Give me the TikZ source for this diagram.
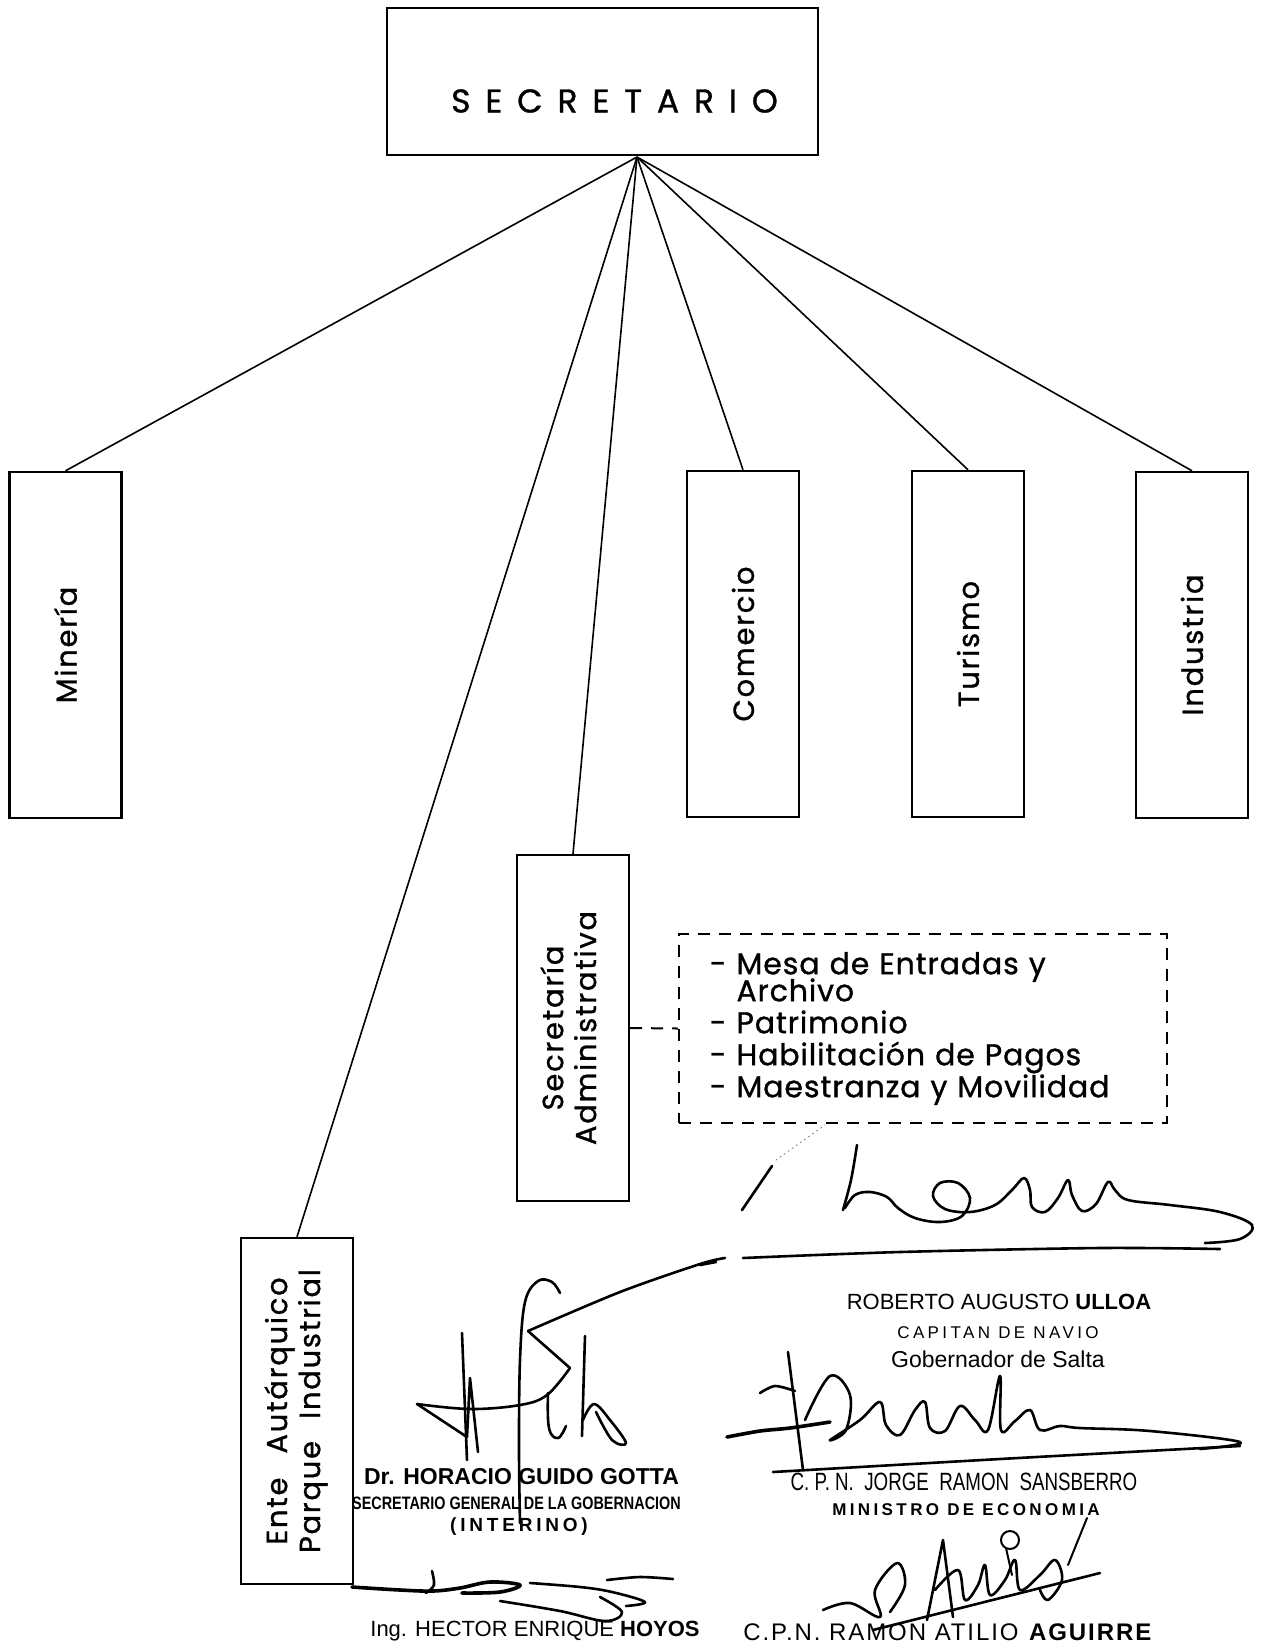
\documentclass[tikz,border=0pt]{standalone}
\usepackage{fontspec}
\setmainfont{Liberation Sans}
\newfontfamily\gothic[LetterSpace=6, FakeBold=1]{Poppins}
\newfontfamily\gothicwide[LetterSpace=45, FakeBold=1]{Poppins}
\newfontfamily\gothiclist[LetterSpace=3, FakeBold=1]{Poppins}
\newfontfamily\stampwide[LetterSpace=20]{Liberation Sans}
\usepackage{graphicx}
\usetikzlibrary{positioning}

\begin{document}
\begin{tikzpicture}[x=0.5pt, y=-0.5pt,
    unitbox/.style={draw, line width=1.2pt, minimum width=56pt, minimum height=173pt,
        inner sep=0pt, font=\gothic\fontsize{14.5}{16.5}\selectfont},
    link/.style={line width=0.8pt},
    dashline/.style={line width=1pt, dash pattern=on 6pt off 4.5pt},
    sig/.style={line width=1.3pt, line cap=round, line join=round},
    stamp/.style={anchor=base, inner sep=0pt}]
    \useasboundingbox (0,0) rectangle (1262,1646);

    % Secretario
    \node[draw, line width=1.2pt, minimum width=215.5pt, minimum height=73.5pt,
        label={[font=\gothicwide\fontsize{16.5}{18}\selectfont, xshift=6pt, yshift=-9.75pt]center:SECRETARIO}]
        (sec) at (602.5,81.5) {};
    \coordinate (hub) at (637,157);

    % Dependencias
    \node[unitbox] (mineria) at (65.5,645) {\rotatebox{90}{Minería}};
    \node[unitbox] (comercio) at (743,644) {\rotatebox{90}{Comercio}};
    \node[unitbox] (turismo) at (968,644) {\rotatebox{90}{Turismo}};
    \node[unitbox] (industria) at (1192,645) {\rotatebox{90}{Industria}};
    \node[unitbox] (secadm) at (573,1028) {\rotatebox{90}{\begin{tabular}{@{}c@{}}Secretaría\\Administrativa\end{tabular}}};
    \node[unitbox] (ente) at (297,1411) {\rotatebox{90}{\begin{tabular}{@{}c@{}}Ente\hspace{12pt}Autárquico\\Parque\hspace{11pt}Industrial\end{tabular}}};

    \foreach \n in {mineria, secadm, ente, comercio, turismo, industria}
        \draw[link] (hub) -- (\n.north);

    % Tareas de la Secretaria Administrativa
    \node[dashline, draw, text width=213pt, inner xsep=15.5pt, inner ysep=0pt, minimum height=94.5pt,
        align=left, font=\gothiclist\fontsize{15}{16}\selectfont] (tareas) at (923,1028.5)
        {- Mesa de Entradas y\\[-2.5pt]
         \hphantom{- }Archivo\\
         - Patrimonio\\
         - Habilitación de Pagos\\
         - Maestranza y Movilidad};
    \draw[dashline] (secadm.east) -- (tareas.west);

    % Firmas
    \node[stamp, font=\fontsize{11}{13}\selectfont] (ulloa) at (999,1309) {ROBERTO AUGUSTO \textbf{ULLOA}};
    \node[stamp, font=\stampwide\fontsize{8.5}{10}\selectfont] (capitan) at (998,1338) {CAPITAN DE NAVIO};
    \node[stamp, font=\fontsize{11.5}{13}\selectfont] (gobernador) at (998,1367) {Gobernador de Salta};

    \node[stamp, font=\bfseries\fontsize{11.5}{13}\selectfont] (gotta) at (521.5,1484) {Dr. HORACIO GUIDO GOTTA};
    \node[stamp, font=\bfseries\fontsize{9}{11}\selectfont] (gotta2) at (516.5,1509) {\scalebox{0.8}[1]{SECRETARIO GENERAL DE LA GOBERNACION}};
    \node[stamp, font=\stampwide\bfseries\fontsize{9.5}{11}\selectfont] (gotta3) at (519,1531) {(INTERINO)};

    \node[stamp, font=\fontsize{12.5}{14}\selectfont] (sansberro) at (964,1490) {\scalebox{0.75}[1]{C. P. N. \ JORGE \ RAMON \ SANSBERRO}};
    \node[stamp, font=\stampwide\bfseries\fontsize{8.5}{10}\selectfont] (sansberro2) at (966,1515) {MINISTRO DE ECONOMIA};

    \node[stamp, anchor=base west, font=\fontsize{11}{13}\selectfont] (hoyos) at (370,1636) {Ing. HECTOR ENRIQUE \textbf{HOYOS}};
    \node[stamp, anchor=base west, font=\addfontfeature{LetterSpace=8}\fontsize{12}{14}\selectfont] (aguirre) at (743,1640) {C.P.N. RAMON ATILIO \textbf{AGUIRRE}};

    % trazos de las firmas
    \draw[sig] (742,1210) -- (772,1166);
    \draw[sig, line width=0.5pt, dotted, gray] (776,1160) -- (825,1125);
    \draw[sig] plot[smooth, tension=0.6] coordinates {(843,1210) (851,1180) (857,1145)};
    \draw[sig] plot[smooth, tension=0.6] coordinates {(845,1208) (855,1195) (870,1192) (887,1197)
        (898,1208) (915,1218) (940,1222) (962,1216) (970,1198) (958,1183) (940,1183) (933,1196)
        (945,1209) (970,1212) (995,1205) (1012,1190) (1024,1178) (1030,1190) (1032,1207) (1045,1212)
        (1058,1198) (1068,1180) (1072,1195) (1082,1211) (1096,1204) (1108,1182) (1115,1190)
        (1128,1200) (1170,1205) (1220,1212) (1252,1225) (1240,1239) (1205,1243)};
    \draw[sig] plot[smooth] coordinates {(528,1331) (620,1292) (700,1264) (725,1258)};
    \draw[sig] plot[smooth] coordinates {(743,1258) (900,1252) (1100,1248) (1220,1249)};
    \draw[sig] (700,1265) -- (716,1262);

    \draw[sig] (528,1331) -- (570,1368);
    \draw[sig] plot[smooth, tension=0.6] coordinates {(520,1523) (519,1450) (520,1360) (525,1302)
        (538,1281) (552,1282) (560,1293)};
    \draw[sig] (462,1333) -- (467,1460);
    \draw[sig] (417,1404) -- (467,1437) -- (470,1378) -- (478,1452);
    \draw[sig] plot[smooth, tension=0.6] coordinates {(417,1404) (470,1409) (520,1405) (547,1395) (570,1368)};
    \draw[sig] plot[smooth, tension=0.7] coordinates {(548,1393) (549,1428) (558,1438) (566,1426)};
    \draw[sig] (582,1436) -- (585,1336);
    \draw[sig] plot[smooth, tension=0.6] coordinates {(583,1420) (594,1404) (610,1420) (626,1443) (612,1440) (596,1412)};

    \draw[sig, line width=1.8pt] plot[smooth, tension=0.6] coordinates {(352,1587) (400,1590) (433,1591)
        (460,1588) (490,1582) (520,1585) (500,1592) (462,1593)};
    \draw[sig] plot[smooth] coordinates {(432,1571) (434,1585) (426,1593)};
    \draw[sig] plot[smooth, tension=0.6] coordinates {(530,1583) (580,1587) (612,1592) (645,1602) (626,1606)};
    \draw[sig] plot[smooth] coordinates {(607,1580) (640,1577) (673,1579)};
    \draw[sig] plot[smooth, tension=0.6] coordinates {(500,1601) (560,1611) (605,1621) (622,1612) (600,1597)};

    \draw[sig, line width=1.8pt] plot[smooth] coordinates {(727,1437) (760,1431) (790,1428) (830,1422)};
    \draw[sig] (788,1352) -- (803,1470);
    \draw[sig] plot[smooth] coordinates {(760,1393) (775,1386) (795,1391)};
    \draw[sig] plot[smooth, tension=0.6] coordinates {(805,1420) (830,1376) (850,1395) (846,1430)
        (830,1440) (860,1420) (880,1402) (886,1425) (900,1435) (915,1410) (925,1402) (930,1428)
        (945,1431) (960,1406) (975,1420) (988,1430) (1000,1376) (1001,1430) (1015,1421)
        (1030,1410) (1040,1430) (1060,1426) (1080,1428) (1150,1431) (1240,1442) (1200,1449)};
    \draw[sig] plot[smooth] coordinates {(773,1472) (1000,1459) (1240,1446)};

    \draw[sig] plot[smooth, tension=0.6] coordinates {(823,1610) (850,1603) (880,1617) (875,1590)
        (897,1563) (905,1585) (890,1612)};
    \draw[sig] (927,1620) -- (943,1540) -- (953,1617);
    \draw[sig] plot[smooth, tension=0.6] coordinates {(935,1590) (958,1570) (965,1600) (978,1585)
        (985,1565) (990,1595) (1005,1580) (1015,1560) (1020,1590) (1040,1575) (1055,1560)
        (1062,1580) (1048,1600) (1040,1590)};
    \draw[sig] (873,1630) -- (1100,1573);
    \draw[sig, line width=1pt] (1010,1540) circle[radius=9];
    \draw[sig, line width=1pt] (1006,1548) -- (1012,1575);
    \draw[sig, line width=1pt] (1087,1518) -- (1068,1565);
\end{tikzpicture}
\end{document}
